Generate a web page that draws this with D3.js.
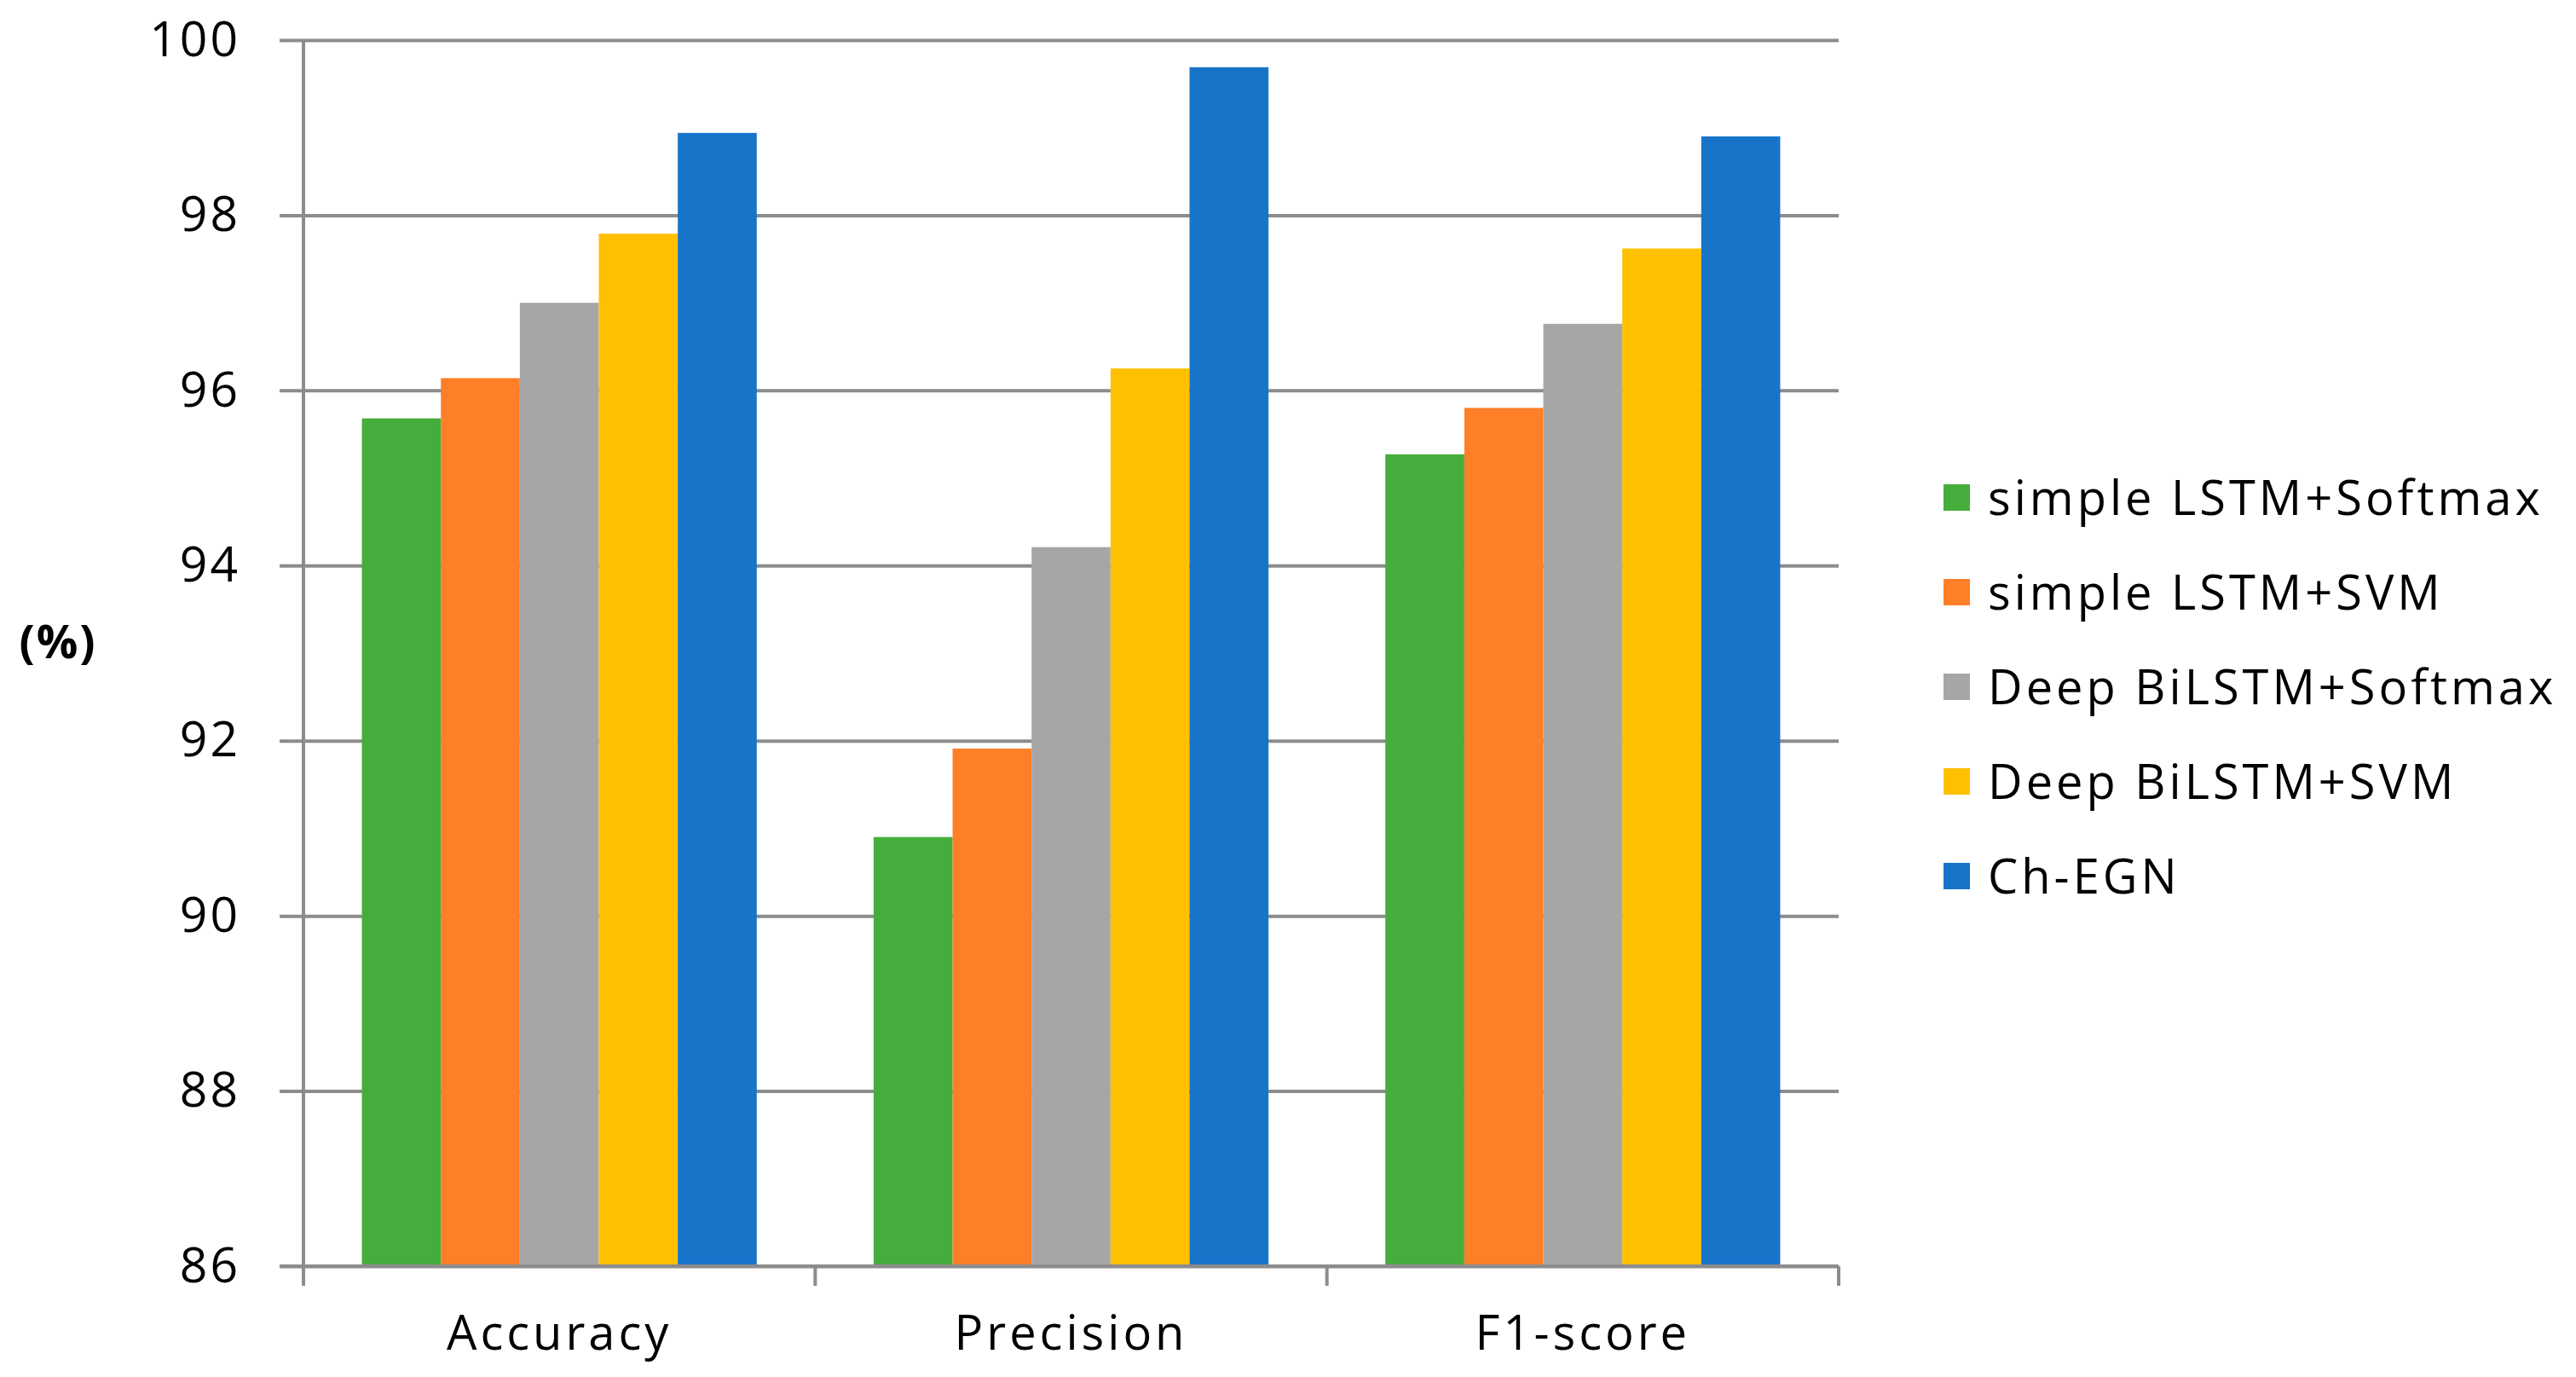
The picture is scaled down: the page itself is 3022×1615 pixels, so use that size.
<!DOCTYPE html>
<html>
<head>
<meta charset="utf-8">
<script src="https://cdn.jsdelivr.net/npm/d3@7"></script>
<style>
  html, body { margin: 0; padding: 0; background: #fff; }
  text { font-family: "Open Sans", "Noto Sans", sans-serif; fill: #000; }
</style>
</head>
<body>
<svg id="chart" width="3022" height="1615"></svg>
<script>
const categories = ['Accuracy', 'Precision', 'F1-score']
const models = ['simple LSTM+Softmax', 'simple LSTM+SVM', 'Deep BiLSTM+Softmax', 'Deep BiLSTM+SVM', 'Ch-EGN']
const colors = ['#45ad3c', '#fe7f27', '#a6a6a6', '#ffc000', '#1874c9']

// one array per model, in category order
const simpleSoftmax = [95.68, 90.90, 95.27]
const simpleSvm = [96.14, 91.91, 95.80]
const deepSoftmax = [97.00, 94.21, 96.76]
const deepSvm = [97.79, 96.25, 97.62]
const chEgn = [98.94, 99.69, 98.90]
const seriesValues = [simpleSoftmax, simpleSvm, deepSoftmax, deepSvm, chEgn]

const yTicks = [86, 88, 90, 92, 94, 96, 98, 100]

const plotLeft = 356, plotRight = 2157, plotTop = 47, plotBottom = 1485
const gridColor = '#8c8c8c'

const svg = d3.select('#chart')

const x0 = d3.scaleBand()
  .domain(categories)
  .range([plotLeft, plotRight])
  .paddingInner(0)
  .paddingOuter(0)

const x1 = d3.scaleBand()
  .domain(models)
  .range([0, x0.bandwidth()])
  .paddingInner(0)
  .paddingOuter(0.74)

const y = d3.scaleLinear()
  .domain([86, 100])
  .range([plotBottom, plotTop])

// gridlines + tick labels
const yAxis = svg.append('g')
  .attr('transform', `translate(${plotRight},0)`)
  .call(d3.axisLeft(y)
    .tickValues(yTicks)
    .tickSize(plotRight - plotLeft + 28)
    .tickPadding(46))

yAxis.select('.domain').remove()
yAxis.selectAll('line')
  .attr('stroke', gridColor)
  .attr('stroke-width', 4)
yAxis.selectAll('text')
  .style('font-size', '57px')
  .style('letter-spacing', '3px')
  .attr('fill', '#000')

// bars
const rows = []
categories.forEach((c, ci) => {
  models.forEach((m, mi) => {
    rows.push({ category: c, model: m, value: seriesValues[mi][ci], color: colors[mi] })
  })
})

svg.append('g')
  .selectAll('rect')
  .data(rows)
  .enter()
  .append('rect')
  .attr('x', d => x0(d.category) + x1(d.model))
  .attr('y', d => y(d.value))
  .attr('width', x1.bandwidth())
  .attr('height', d => y(86) - y(d.value))
  .attr('fill', d => d.color)

// baseline and left axis
svg.append('line')
  .attr('x1', plotLeft - 28).attr('x2', plotRight)
  .attr('y1', y(86)).attr('y2', y(86))
  .attr('stroke', gridColor).attr('stroke-width', 4)

svg.append('line')
  .attr('x1', plotLeft).attr('x2', plotLeft)
  .attr('y1', y(100)).attr('y2', y(86) + 23)
  .attr('stroke', gridColor).attr('stroke-width', 4)

// category boundary ticks
const bounds = categories.map(c => x0(c)).concat([x0.range()[1]])
svg.append('g')
  .selectAll('line')
  .data(bounds)
  .enter()
  .append('line')
  .attr('x1', d => d).attr('x2', d => d)
  .attr('y1', y(86)).attr('y2', y(86) + 23)
  .attr('stroke', gridColor).attr('stroke-width', 4)

// category labels
svg.append('g')
  .selectAll('text')
  .data(categories)
  .enter()
  .append('text')
  .attr('x', d => x0(d) + x0.bandwidth() / 2)
  .attr('y', 1583)
  .attr('text-anchor', 'middle')
  .style('font-size', '56px')
  .style('letter-spacing', '4px')
  .text(d => d)

// y axis title
svg.append('text')
  .attr('x', 68)
  .attr('y', 772)
  .attr('text-anchor', 'middle')
  .style('font-size', '54px')
  .style('font-weight', 'bold')
  .style('letter-spacing', '2px')
  .text('(%)')

// legend
const legend = svg.append('g')
  .selectAll('g')
  .data(models)
  .enter()
  .append('g')
  .attr('transform', (d, i) => `translate(2280,${584 + i * 111})`)

legend.append('rect')
  .attr('x', 0).attr('y', -16)
  .attr('width', 31).attr('height', 31)
  .attr('fill', (d, i) => colors[i])

legend.append('text')
  .attr('x', 52)
  .attr('y', 20)
  .style('font-size', '56px')
  .style('letter-spacing', '4px')
  .text(d => d)
</script>
</body>
</html>
